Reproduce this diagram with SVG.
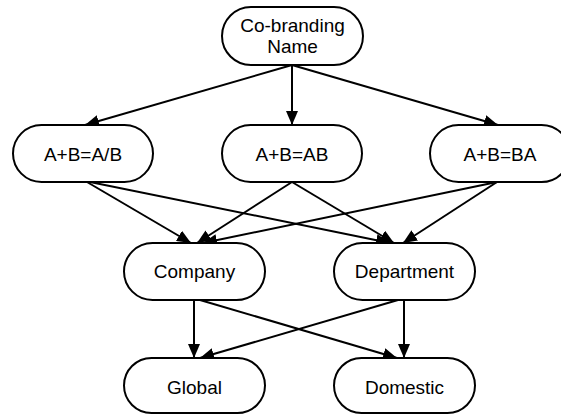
<svg xmlns="http://www.w3.org/2000/svg" width="561" height="415" viewBox="0 0 561 415">
<style>
.n{fill:#fff;stroke:#000;stroke-width:2}
.t{font-family:"Liberation Sans",Arial,sans-serif;font-size:19px;fill:#000;text-anchor:middle}
.e{stroke:#000;stroke-width:2;fill:none;marker-end:url(#a)}
</style>
<defs>
<marker id="a" viewBox="0 0 14 12" refX="14" refY="6" markerWidth="14" markerHeight="12" markerUnits="userSpaceOnUse" orient="auto">
<path d="M0,0 L14,6 L0,12 Z" fill="#000"/>
</marker>
</defs>
<rect width="561" height="415" fill="#fff"/>
<g id="connectors">
<line class="e" x1="292" y1="65" x2="85" y2="125"/>
<line class="e" x1="292" y1="65" x2="292" y2="125"/>
<line class="e" x1="292" y1="65" x2="498" y2="125"/>
<line class="e" x1="87" y1="182" x2="191" y2="243"/>
<line class="e" x1="90" y1="182" x2="390" y2="243"/>
<line class="e" x1="292" y1="182" x2="197" y2="243"/>
<line class="e" x1="292" y1="182" x2="394" y2="243"/>
<line class="e" x1="497" y1="182" x2="203" y2="243"/>
<line class="e" x1="497" y1="182" x2="403" y2="243"/>
<line class="e" x1="194" y1="300" x2="194" y2="358"/>
<line class="e" x1="200" y1="300" x2="397" y2="358"/>
<line class="e" x1="398" y1="300" x2="200" y2="358"/>
<line class="e" x1="404" y1="300" x2="404" y2="358"/>
</g>
<g id="cobranding">
<rect class="n" x="222" y="7" width="141" height="58" rx="29"/>
<text class="t" x="292.5" y="32">Co-branding</text>
<text class="t" x="292.5" y="53">Name</text>
</g>
<g id="ab_slash">
<rect class="n" x="13" y="125" width="140" height="57" rx="28.5"/>
<text class="t" x="83" y="161">A+B=A/B</text>
</g>
<g id="ab">
<rect class="n" x="222" y="125" width="140" height="57" rx="28.5"/>
<text class="t" x="292" y="161">A+B=AB</text>
</g>
<g id="ba">
<rect class="n" x="430" y="125" width="140" height="57" rx="28.5"/>
<text class="t" x="500" y="161">A+B=BA</text>
</g>
<g id="company">
<rect class="n" x="124" y="243" width="141" height="57" rx="28.5"/>
<text class="t" x="194.5" y="278">Company</text>
</g>
<g id="department">
<rect class="n" x="334" y="243" width="141" height="57" rx="28.5"/>
<text class="t" x="404.5" y="278">Department</text>
</g>
<g id="global">
<rect class="n" x="124" y="358" width="141" height="55" rx="27.5"/>
<text class="t" x="194.5" y="394">Global</text>
</g>
<g id="domestic">
<rect class="n" x="334" y="358" width="141" height="55" rx="27.5"/>
<text class="t" x="404.5" y="394">Domestic</text>
</g>
</svg>
